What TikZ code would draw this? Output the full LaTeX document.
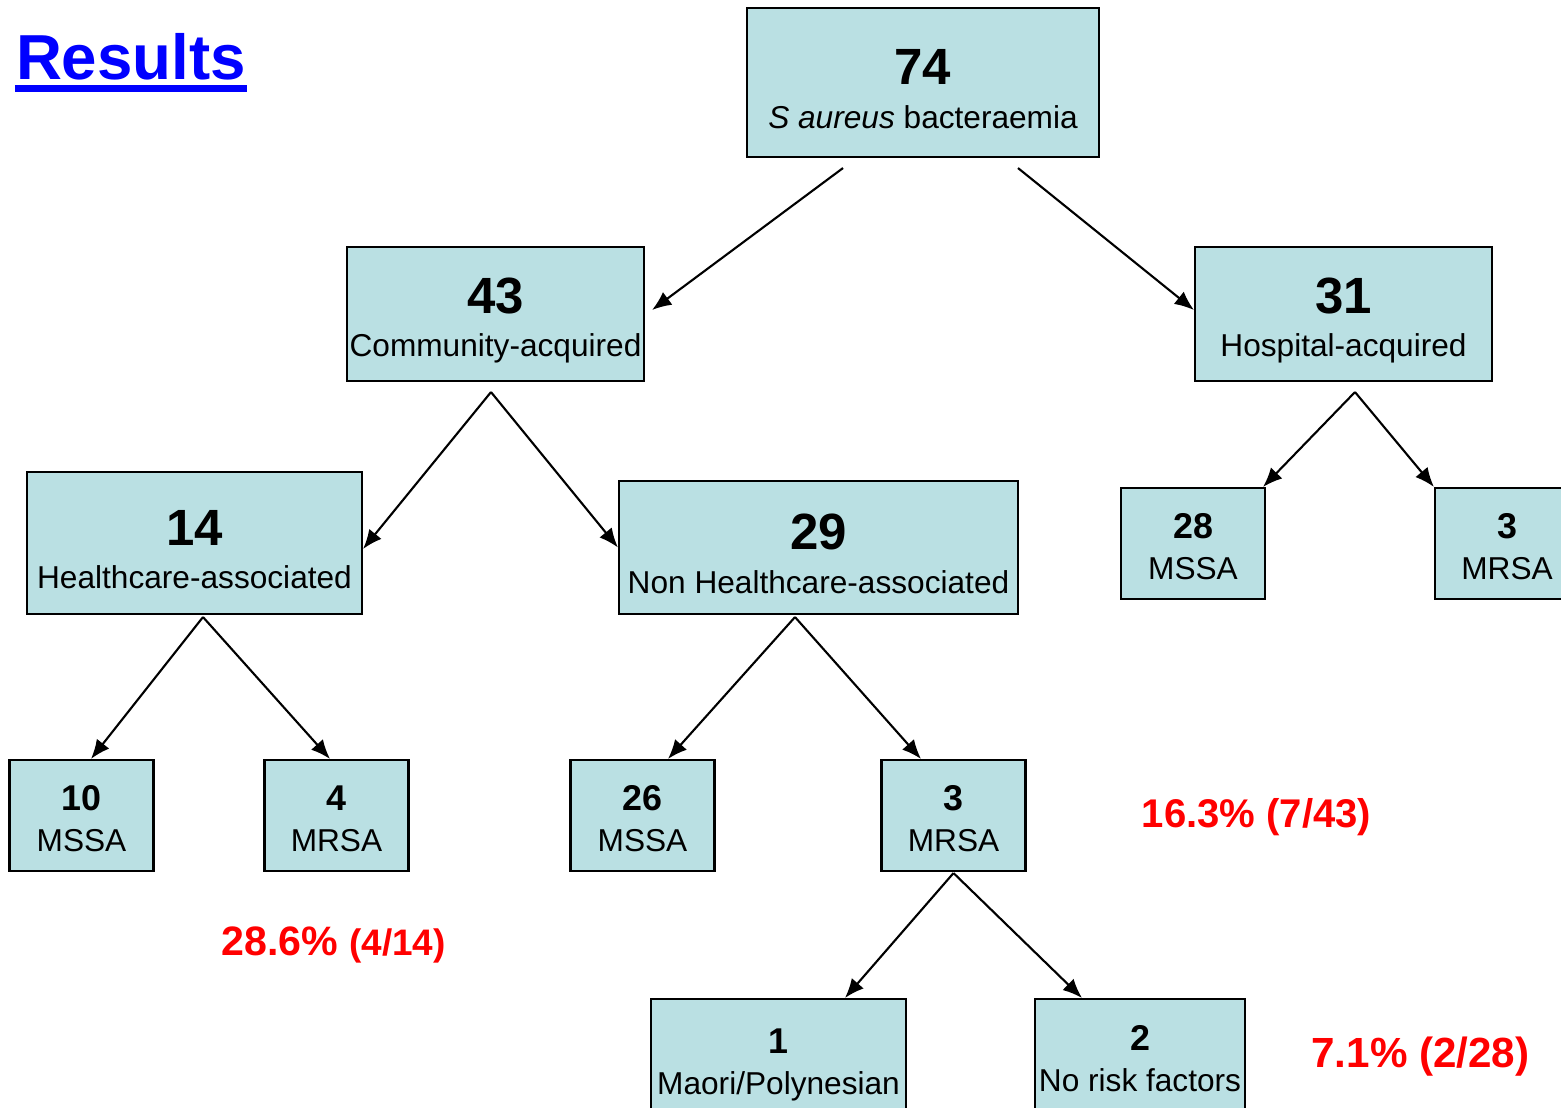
\documentclass[tikz,border=0pt]{standalone}
\usepackage{fontspec}
\setmainfont{Liberation Sans}
\usetikzlibrary{positioning,arrows.meta}
\definecolor{boxfill}{RGB}{186,224,227}
\newcommand{\bignum}[1]{{\fontsize{14.5}{14.5}\selectfont\bfseries\rule{0pt}{13.8pt}#1}}
\newcommand{\smallnum}[1]{{\fontsize{10.2}{10.2}\selectfont\bfseries\rule{0pt}{8.8pt}#1}}

\begin{document}
\begin{tikzpicture}[>={Latex[length=5.5pt,width=4.5pt]}, line width=0.6pt, on grid]
\tikzstyle{grp}=[draw, fill=boxfill, inner sep=0pt, align=center, font=\fontsize{9}{12.3}\selectfont]
\tikzstyle{sub}=[grp, minimum width=1.44cm, minimum height=1.11cm, font=\fontsize{9}{11.7}\selectfont]
\tikzstyle{pct}=[text=red, anchor=base, inner sep=0pt]
	\useasboundingbox (0,0) rectangle (15.61,11.07);
	\clip (0,0) rectangle (15.61,11.07);

	\node[anchor=base west, inner sep=0pt, text=blue, font=\fontsize{18.1}{20}\selectfont\bfseries] (title) at (0.15,10.28) {Results};
	\draw[blue, line width=2pt] ([yshift=-0.095cm]title.base west) -- ([yshift=-0.095cm]title.base east);

	\node[grp, minimum width=3.52cm, minimum height=1.49cm] (total) at (9.23,10.245) {\bignum{74}\\\textit{S aureus} bacteraemia};
	\node[grp, minimum width=2.97cm, minimum height=1.34cm, below left=2.315cm and 4.275cm of total] (ca) {\bignum{43}\\Community-acquired};
	\node[grp, minimum width=2.97cm, minimum height=1.34cm, below right=2.315cm and 4.205cm of total] (ha) {\bignum{31}\\Hospital-acquired};
	\node[grp, minimum width=3.35cm, minimum height=1.42cm, below left=2.29cm and 3.01cm of ca] (hca) {\bignum{14}\\Healthcare-associated};
	\node[grp, minimum width=3.99cm, minimum height=1.33cm, below right=2.335cm and 3.23cm of ca] (nhca) {\bignum{29}\\Non Healthcare-associated};
	\node[sub, below left=2.295cm and 1.505cm of ha] (hmssa) {\smallnum{28}\\MSSA};
	\node[sub, below right=2.295cm and 1.635cm of ha] (hmrsa) {\smallnum{3}\\MRSA};
	\node[sub, below left=2.725cm and 1.13cm of hca] (cmssa) {\smallnum{10}\\MSSA};
	\node[sub, below right=2.725cm and 1.42cm of hca] (cmrsa) {\smallnum{4}\\MRSA};
	\node[sub, below left=2.68cm and 1.76cm of nhca] (nmssa) {\smallnum{26}\\MSSA};
	\node[sub, below right=2.68cm and 1.35cm of nhca] (nmrsa) {\smallnum{3}\\MRSA};
	\node[sub, minimum width=2.55cm, minimum height=1.25cm, below left=2.46cm and 1.75cm of nmrsa] (maori) {\smallnum{1}\\Maori/Polynesian};
	\node[sub, minimum width=2.10cm, minimum height=1.25cm, below right=2.46cm and 1.865cm of nmrsa] (norisk) {\smallnum{2}\\No risk factors\rule[-3.2pt]{0pt}{3.2pt}};

	\node[pct, font=\fontsize{11.4}{13}\selectfont\bfseries] (pca) at (12.565,2.80) {16.3\% (7/43)};
	\node[pct, font=\fontsize{11.7}{13}\selectfont\bfseries] (phca) at (3.335,1.52) {28.6\% {\fontsize{10.5}{12}\selectfont(4/14)}};
	\node[pct, font=\fontsize{12}{14}\selectfont\bfseries] (pnh) at (14.205,0.40) {7.1\% (2/28)};

	\draw[->] ([xshift=-0.8cm,yshift=-0.1cm]total.south) -- ([xshift=0.07cm,yshift=0.04cm]ca.east);
	\draw[->] ([xshift=0.95cm,yshift=-0.1cm]total.south) -- ([yshift=0.04cm]ha.west);
	\draw[->] ([xshift=-0.045cm,yshift=-0.1cm]ca.south) -- ([yshift=-0.06cm]hca.east);
	\draw[->] ([xshift=-0.045cm,yshift=-0.1cm]ca.south) -- (nhca.west);
	\draw[->] ([xshift=0.115cm,yshift=-0.1cm]ha.south) -- ([xshift=-0.03cm]hmssa.north east);
	\draw[->] ([xshift=0.115cm,yshift=-0.1cm]ha.south) -- (hmrsa.north west);
	\draw[->] ([xshift=0.085cm,yshift=-0.02cm]hca.south) -- ([xshift=0.095cm]cmssa.north);
	\draw[->] ([xshift=0.085cm,yshift=-0.02cm]hca.south) -- ([xshift=-0.065cm]cmrsa.north);
	\draw[->] ([xshift=-0.235cm,yshift=-0.02cm]nhca.south) -- ([xshift=0.255cm]nmssa.north);
	\draw[->] ([xshift=-0.235cm,yshift=-0.02cm]nhca.south) -- ([xshift=-0.325cm]nmrsa.north);
	\draw[->] ([yshift=-0.01cm]nmrsa.south) -- ([xshift=0.665cm]maori.north);
	\draw[->] ([yshift=-0.01cm]nmrsa.south) -- ([xshift=-0.58cm]norisk.north);
\end{tikzpicture}
\end{document}
